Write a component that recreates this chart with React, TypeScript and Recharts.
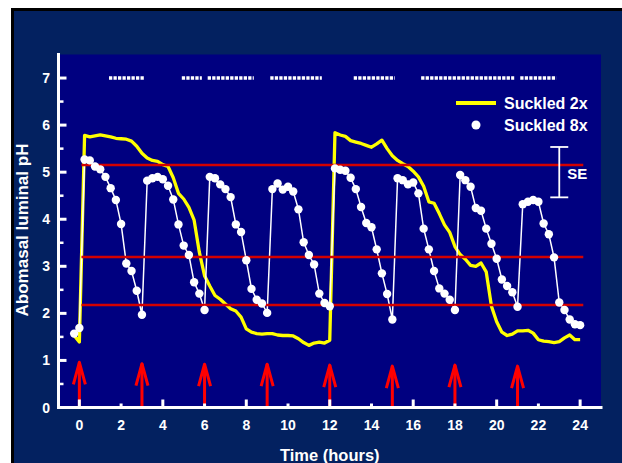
import {
  CartesianGrid,
  ComposedChart,
  ErrorBar,
  Legend,
  Line,
  ReferenceLine,
  Scatter,
  XAxis,
  YAxis,
} from "recharts";

// sampling times, every 15 min
const times = [
  -0.25, 0, 0.25, 0.5, 0.75, 1, 1.25, 1.5, 1.75, 2, 2.25, 2.5, 2.75, 3,
  3.25, 3.5, 3.75, 4, 4.25, 4.5, 4.75, 5, 5.25, 5.5, 5.75, 6,
  6.25, 6.5, 6.75, 7, 7.25, 7.5, 7.75, 8, 8.25, 8.5, 8.75, 9,
  9.25, 9.5, 9.75, 10, 10.25, 10.5, 10.75, 11, 11.25, 11.5, 11.75, 12,
  12.25, 12.5, 12.75, 13, 13.25, 13.5, 13.75, 14, 14.25, 14.5, 14.75, 15,
  15.25, 15.5, 15.75, 16, 16.25, 16.5, 16.75, 17, 17.25, 17.5, 17.75, 18,
  18.25, 18.5, 18.75, 19, 19.25, 19.5, 19.75, 20, 20.25, 20.5, 20.75, 21,
  21.25, 21.5, 21.75, 22, 22.25, 22.5, 22.75, 23, 23.25, 23.5, 23.75, 24,
];

const suckled2x = [
  1.53, 1.39, 5.78, 5.75, 5.77, 5.79, 5.77, 5.75, 5.72, 5.71, 5.7, 5.66, 5.55, 5.4,
  5.3, 5.25, 5.23, 5.16, 5.12, 4.88, 4.55, 4.43, 4.25, 3.98, 3.3, 2.8,
  2.58, 2.38, 2.3, 2.2, 2.1, 2.05, 1.92, 1.67, 1.6, 1.57, 1.56, 1.57,
  1.57, 1.54, 1.53, 1.53, 1.52, 1.46, 1.38, 1.32, 1.37, 1.39, 1.37, 1.43,
  5.84, 5.79, 5.76, 5.67, 5.64, 5.61, 5.57, 5.53, 5.6, 5.68, 5.5, 5.35,
  5.25, 5.18, 5.12, 5.02, 4.9, 4.7, 4.37, 4.34, 4.12, 3.88, 3.72, 3.42,
  3.25, 3.15, 3.02, 3.0, 3.07, 2.88, 2.15, 1.82, 1.6, 1.53, 1.56, 1.63,
  1.63, 1.64, 1.58, 1.44, 1.41, 1.4, 1.38, 1.4, 1.48, 1.54, 1.44, 1.44,
];

const suckled8x = [
  1.57, 1.69, 5.27, 5.25, 5.12, 5.06, 4.9, 4.66, 4.41, 3.9, 3.06, 2.9, 2.48, 1.97,
  4.82, 4.87, 4.9, 4.85, 4.71, 4.42, 3.89, 3.44, 3.24, 2.66, 2.42, 2.07,
  4.9, 4.87, 4.74, 4.64, 4.47, 3.89, 3.73, 3.13, 2.52, 2.29, 2.21, 2.01,
  4.64, 4.76, 4.63, 4.69, 4.59, 4.21, 3.51, 3.24, 3.04, 2.42, 2.22, 2.15,
  5.08, 5.05, 5.03, 4.88, 4.64, 4.26, 3.92, 3.83, 3.36, 2.85, 2.41, 1.87,
  4.87, 4.83, 4.74, 4.78, 4.55, 3.8, 3.36, 2.9, 2.53, 2.42, 2.29, 2.07,
  4.94, 4.83, 4.69, 4.24, 4.18, 3.8, 3.48, 3.16, 2.72, 2.58, 2.45, 2.14,
  4.32, 4.37, 4.41, 4.37, 3.91, 3.68, 3.19, 2.23, 2.07, 1.87, 1.77, 1.75,
];

// feeding arrows
const feedTimes = [0, 3, 6, 9, 12, 15, 18, 21];
const feedTops = [0.96, 0.93, 0.92, 0.92, 0.9, 0.88, 0.9, 0.88];

// dashed bars along the top
const barStarts = [1.42, 4.91, 6.15, 9.15, 13.15, 16.38, 21.13];
const barEnds = [3.13, 5.87, 8.36, 11.62, 15.12, 20.84, 22.86];
const barLevel = 7;

const redLevels = [5.15, 3.2, 2.18];
const redFrom = 0.1;
const redTo = 24.15;

const seTime = 23;
const seMid = 5.0;
const seHalf = 0.535;

const xTicks = [0, 2, 4, 6, 8, 10, 12, 14, 16, 18, 20, 22, 24];
const yTicks = [0, 0.5, 1, 1.5, 2, 2.5, 3, 3.5, 4, 4.5, 5, 5.5, 6, 6.5, 7];

const data = times.map((t, i) => ({ t, s2: suckled2x[i], s8: suckled8x[i] }));
const arrowData = feedTimes.map((t, i) => ({ t, tip: feedTops[i] }));
const seData = [{ t: seTime, v: seMid, err: seHalf }];

const FONT = "'Liberation Sans', Arial, Helvetica, sans-serif";
const WHITE = "#ffffff";
const YELLOW = "#ffff00";

function XTick(props: any) {
  const { x, y, payload } = props;
  const v = payload.value;
  const len = v % 4 === 0 ? 8 : 4;
  return (
    <g>
      <line x1={x} x2={x} y1={y} y2={y - len} stroke={WHITE} strokeWidth={3} />
      <text
        x={x}
        y={y + 22.5}
        textAnchor="middle"
        fill={WHITE}
        fontSize={14}
        fontWeight="bold"
        fontFamily={FONT}
      >
        {v}
      </text>
    </g>
  );
}

function YTick(props: any) {
  const { x, y, payload } = props;
  const v = payload.value;
  const major = Number.isInteger(v);
  return (
    <g>
      <line
        x1={x}
        x2={x + (major ? 8 : 5)}
        y1={y}
        y2={y}
        stroke={WHITE}
        strokeWidth={major ? 3 : 2.5}
      />
      {major && (
        <text
          x={x - 8.5}
          y={y + 5}
          textAnchor="end"
          fill={WHITE}
          fontSize={14}
          fontWeight="bold"
          fontFamily={FONT}
        >
          {v}
        </text>
      )}
    </g>
  );
}

function XTitle(props: any) {
  const vb = props.viewBox;
  return (
    <text
      x={vb.x + vb.width / 2}
      y={vb.y + 53.5}
      textAnchor="middle"
      fill={WHITE}
      fontSize={16.5}
      fontWeight="bold"
      fontFamily={FONT}
    >
      Time (hours)
    </text>
  );
}

function YTitle(props: any) {
  const vb = props.viewBox;
  const cy = vb.y + vb.height / 2 - 1;
  return (
    <text
      transform={`translate(28, ${cy}) rotate(-90)`}
      textAnchor="middle"
      fill={WHITE}
      fontSize={17}
      fontWeight="bold"
      fontFamily={FONT}
    >
      Abomasal luminal pH
    </text>
  );
}

function ArrowHead(props: any) {
  const { cx, cy } = props;
  return (
    <polyline
      points={`${cx - 6},${cy + 22} ${cx},${cy} ${cx + 6},${cy + 22}`}
      fill="none"
      stroke="#ff0000"
      strokeWidth={3}
      strokeLinejoin="round"
    />
  );
}

function SeLabel(props: any) {
  const { cx, cy } = props;
  return (
    <text
      x={cx + 8}
      y={cy + 6.5}
      fill={WHITE}
      fontSize={15}
      fontWeight="bold"
      fontFamily={FONT}
    >
      SE
    </text>
  );
}

const renderLegend = () => (
  <svg width={160} height={50} style={{ display: "block" }}>
    <line x1={6} x2={46} y1={13} y2={13} stroke={YELLOW} strokeWidth={4} />
    <text x={54} y={18.7} fill={WHITE} fontSize={16} fontWeight="bold" fontFamily={FONT}>
      Suckled 2x
    </text>
    <circle cx={26} cy={35} r={4.5} fill={WHITE} />
    <text x={54} y={40.7} fill={WHITE} fontSize={16} fontWeight="bold" fontFamily={FONT}>
      Suckled 8x
    </text>
  </svg>
);

const border = { stroke: WHITE, strokeWidth: 3, strokeLinecap: "square" as const };

export default function App() {
  return (
    <div
      style={{
        position: "absolute",
        left: 0,
        top: 0,
        width: 622,
        height: 463,
        background: "#ffffff",
        overflow: "hidden",
      }}
    >
      <div
        style={{
          position: "absolute",
          left: 11,
          top: 7.5,
          right: 0,
          bottom: 0,
          background: "#032160",
          borderLeft: "3px solid #000",
          borderTop: "3px solid #000",
        }}
      />
      <div style={{ position: "absolute", left: 0, top: 0 }}>
        <ComposedChart
          width={622}
          height={463}
          data={data}
          margin={{ top: 54.5, right: 21, bottom: 0, left: 0 }}
        >
          <CartesianGrid fill="#000080" horizontal={false} vertical={false} />
          <XAxis
            dataKey="t"
            type="number"
            domain={[-1, 25]}
            ticks={xTicks}
            interval={0}
            height={55.5}
            tickSize={0}
            tickMargin={0}
            tickLine={false}
            axisLine={border}
            tick={<XTick />}
            label={<XTitle />}
            allowDataOverflow
          />
          <XAxis
            xAxisId="top"
            orientation="top"
            type="number"
            domain={[-1, 25]}
            height={0}
            tick={false}
            tickLine={false}
            axisLine={border}
          />
          <YAxis
            type="number"
            domain={[0, 7.5]}
            ticks={yTicks}
            interval={0}
            width={58.5}
            tickSize={0}
            tickMargin={0}
            tickLine={false}
            axisLine={border}
            tick={<YTick />}
            label={<YTitle />}
            allowDataOverflow
          />
          <YAxis
            yAxisId="right"
            orientation="right"
            type="number"
            domain={[0, 7.5]}
            width={0}
            tick={false}
            tickLine={false}
            axisLine={border}
          />

          {barStarts.map((s, i) => (
            <ReferenceLine
              key={`bar${i}`}
              segment={[
                { x: s, y: barLevel },
                { x: barEnds[i], y: barLevel },
              ]}
              stroke={WHITE}
              strokeWidth={3.5}
              strokeDasharray="3.3 1.2"
            />
          ))}

          <Line
            dataKey="s2"
            name="Suckled 2x"
            type="linear"
            stroke={YELLOW}
            strokeWidth={3.3}
            strokeLinejoin="round"
            dot={false}
            activeDot={false}
            isAnimationActive={false}
          />
          <Line
            dataKey="s8"
            name="Suckled 8x"
            type="linear"
            stroke={WHITE}
            strokeWidth={1.5}
            dot={{ r: 4.2, fill: WHITE, stroke: WHITE, strokeWidth: 0 }}
            activeDot={false}
            isAnimationActive={false}
          />

          {redLevels.map((lv) => (
            <ReferenceLine
              key={`red${lv}`}
              segment={[
                { x: redFrom, y: lv },
                { x: redTo, y: lv },
              ]}
              stroke="#d40000"
              strokeWidth={2.5}
            />
          ))}

          {arrowData.map((a) => (
            <ReferenceLine
              key={`shaft${a.t}`}
              segment={[
                { x: a.t, y: 0 },
                { x: a.t, y: a.tip },
              ]}
              stroke="#ff0000"
              strokeWidth={3}
            />
          ))}
          <Scatter
            data={arrowData}
            dataKey="tip"
            shape={<ArrowHead />}
            legendType="none"
            isAnimationActive={false}
          />

          <Scatter
            data={seData}
            dataKey="v"
            shape={<SeLabel />}
            legendType="none"
            isAnimationActive={false}
          >
            <ErrorBar dataKey="err" direction="y" width={9} stroke={WHITE} strokeWidth={1.8} />
          </Scatter>

          <Legend
            layout="vertical"
            align="center"
            verticalAlign="middle"
            wrapperStyle={{ left: 450, top: 90, width: 160, height: 50 }}
            content={renderLegend}
          />
        </ComposedChart>
      </div>
    </div>
  );
}
